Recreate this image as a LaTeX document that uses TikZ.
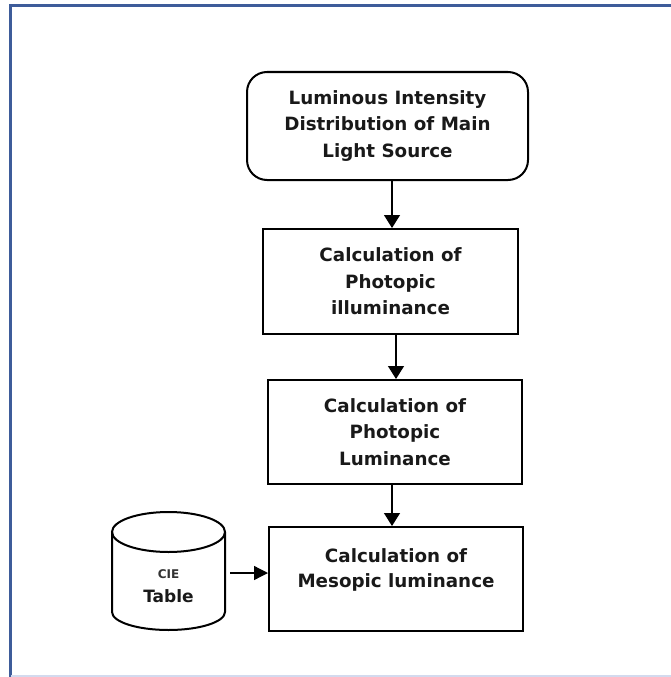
\documentclass[tikz,border=0pt]{standalone}
\usepackage{fontspec}
\setmainfont{DejaVu Sans}
\usetikzlibrary{arrows.meta}
\definecolor{framedark}{HTML}{3E5C9A}
\definecolor{framelight}{HTML}{D3DAEE}
\tikzset{
  flowbox/.style={draw=black, line width=2pt, align=center, inner sep=0pt,
    font=\fontsize{18.3}{26.5}\selectfont\bfseries, text=black!90},
  roundbox/.style={flowbox, rounded corners=20pt},
  flowarrow/.style={draw=black, line width=1.3pt, -{Triangle[width=16pt,length=13pt]}},
  sidearrow/.style={draw=black, line width=1.3pt, -{Triangle[width=14pt,length=14pt]}},
}
\begin{document}
\begin{tikzpicture}[x=1pt,y=1pt]
\useasboundingbox (0,0) rectangle (671,-677);
% page frame
\draw[framedark, line width=3pt] (10,-677) -- (10,-6) -- (675,-6);
\draw[framelight, line width=1.2pt] (11,-676) -- (671,-676);

% process boxes
\node[roundbox, minimum width=281pt, minimum height=108pt] (src) at (387.5,-126)
  {Luminous Intensity\\Distribution of Main\\Light Source};
\node[flowbox, minimum width=255pt, minimum height=105pt] (illum) at (390.5,-281.5)
  {Calculation of\\Photopic\\illuminance};
\node[flowbox, minimum width=254pt, minimum height=104pt] (lum) at (395,-432)
  {Calculation of\\Photopic\\Luminance};
\node[flowbox, minimum width=254pt, minimum height=104pt] (meso) at (396,-579) {};
\node[align=center, inner sep=0pt, font=\fontsize{18.3}{25}\selectfont\bfseries,
  text=black!90] (mesotext) at (396,-570) {Calculation of\\Mesopic luminance};

% CIE table drum
\draw[line width=2pt] (112,-532) -- (112,-612)
  arc[start angle=180, end angle=360, x radius=56.5, y radius=18] -- (225,-532);
\draw[line width=2pt] (168.5,-532) ellipse[x radius=56.5, y radius=20];
\node[inner sep=0pt, font=\fontsize{12}{12}\selectfont\bfseries, text=black!80] (cie) at (168.5,-574) {CIE};
\node[inner sep=0pt, font=\fontsize{17}{17}\selectfont\bfseries, text=black!90] (table) at (168.5,-596) {Table};
\coordinate (cieout) at (230,-573);

% connectors
\draw[flowarrow] (src.south -| 392,0) -- (illum.north -| 392,0);
\draw[flowarrow] (illum.south -| 396,0) -- (lum.north -| 396,0);
\draw[flowarrow] (lum.south -| 392,0) -- (meso.north -| 392,0);
\draw[sidearrow] (cieout) -- (cieout -| meso.west);
\end{tikzpicture}
\end{document}
